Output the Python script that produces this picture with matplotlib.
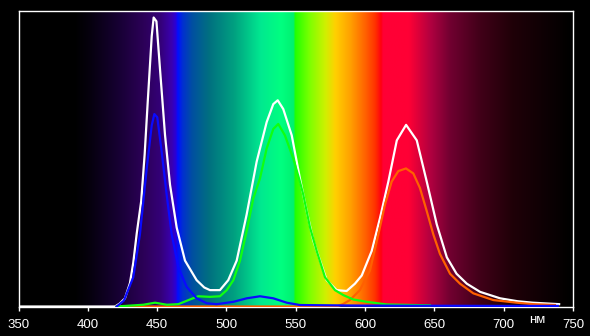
import numpy as np
import matplotlib
matplotlib.use('Agg')
import matplotlib.pyplot as plt
from matplotlib.colors import LinearSegmentedColormap

# spectrum of the backlight, normalised (nm, relative intensity)
white_nm = [350, 415, 419.6, 423, 426.8, 430.4, 432.8, 435.3, 438.5, 441, 443.2, 446.1, 447.5,
            449.5, 452.1, 455.7, 459.3, 464.1, 470.1, 478.5, 484, 488.1, 495.3, 501.3, 507.4,
            514.6, 521.8, 529, 533.8, 537, 541, 547.1, 553, 557.9, 562.7, 567.5, 572.3, 579.5,
            586.7, 592.7, 597.6, 604.8, 610.8, 616.8, 622.9, 629.6, 637.3, 644.5, 651.7, 659,
            666, 673.4, 683, 697.4, 710, 721, 740]
white_val = [0, 0, 0, 0.01, 0.028, 0.08, 0.15, 0.25, 0.36, 0.52, 0.698, 0.924, 0.988,
             0.975, 0.81, 0.586, 0.416, 0.27, 0.157, 0.09, 0.065, 0.056, 0.056, 0.09, 0.157,
             0.315, 0.495, 0.63, 0.692, 0.705, 0.675, 0.585, 0.438, 0.326, 0.225, 0.157, 0.09, 0.056,
             0.053, 0.078, 0.106, 0.19, 0.303, 0.427, 0.568, 0.621, 0.568, 0.427, 0.281, 0.168,
             0.112, 0.078, 0.05, 0.028, 0.018, 0.013, 0.008]

blue_nm = [420.8, 426, 432.8, 437.6, 442.5, 446.1, 448, 450.1, 453.3, 456.9, 460.5, 465.3,
           471.3, 478.5, 485.8, 493, 505, 514.6, 524.2, 533.8, 543.5, 553, 600, 700, 739]
blue_val = [0, 0.02, 0.1, 0.247, 0.472, 0.619, 0.658, 0.647, 0.529, 0.382, 0.247, 0.134,
            0.067, 0.028, 0.011, 0.008, 0.016, 0.028, 0.035, 0.028, 0.013, 0.005, 0.003, 0.002, 0.002]

green_nm = [420.8, 440, 448.5, 457, 465.3, 473.7, 479.7, 488.1, 495.3, 500.2, 505, 509.8,
            514.6, 519.4, 524.2, 529, 533.8, 537.4, 542.2, 548.2, 553, 555.4, 560.3, 565.1,
            571.1, 578.3, 584.3, 591.5, 601.2, 615.6, 646.8]
green_val = [0, 0.006, 0.013, 0.006, 0.008, 0.024, 0.035, 0.033, 0.035, 0.056, 0.09, 0.157,
             0.258, 0.37, 0.438, 0.54, 0.607, 0.624, 0.585, 0.506, 0.427, 0.383, 0.27, 0.19,
             0.1, 0.056, 0.039, 0.024, 0.016, 0.007, 0.004]

red_nm = [420.8, 579.5, 584, 589.1, 596.3, 603.5, 609.6, 614.4, 619.2, 624, 629.5, 634.8,
          639.6, 644.5, 649.2, 654, 661.3, 668.5, 678.1, 692.5, 709.4, 721.4, 737]
red_val = [0, 0, 0.008, 0.022, 0.056, 0.123, 0.247, 0.349, 0.427, 0.463, 0.472, 0.455,
           0.405, 0.326, 0.247, 0.18, 0.112, 0.078, 0.045, 0.022, 0.013, 0.008, 0.005]

ticks = [350, 400, 450, 500, 550, 600, 650, 700, 750]

# colour stops of the spectrum background
stops = [(350, '#000000'), (390, '#000000'), (400, '#05000c'), (420, '#150030'),
         (440, '#2c0058'), (452, '#340078'), (460, '#3a00b0'), (463, '#2a00d8'),
         (464.5, '#0010ff'), (468, '#0030d0'), (475, '#0050a0'), (487, '#007080'),
         (505, '#00a080'), (524, '#00e890'), (539, '#00ff80'), (548, '#00f070'),
         (549, '#20ff00'), (560, '#80ff00'), (571, '#d0f000'), (578, '#ffd000'),
         (589, '#ffa000'), (600, '#ff6000'), (607, '#ff3000'), (611, '#ff0010'),
         (612.5, '#ff0035'), (631, '#ff0035'), (647, '#b00040'), (661, '#700030'),
         (683, '#400018'), (705, '#200008'), (726, '#100004'), (748, '#000000'),
         (750, '#000000')]
cmap = LinearSegmentedColormap.from_list(
    'spec', [((w - 350) / 400, c) for w, c in stops], N=2048)

fig = plt.figure(figsize=(5.9, 3.36), dpi=100, facecolor='black')
ax = fig.add_axes([18.5 / 590, 1 - 306.5 / 336, (573 - 18.5) / 590, 296 / 336])
ax.set_facecolor('black')

grad = np.linspace(0, 1, 2048).reshape(1, -1)
ax.imshow(grad, cmap=cmap, aspect='auto', extent=[350, 750, 0, 1.012],
          interpolation='bilinear', zorder=0)

ax.plot(white_nm, white_val, color='white', lw=1.6, zorder=2)
ax.plot(red_nm, red_val, color='#ff6000', lw=1.6, zorder=3)
ax.plot(green_nm, green_val, color='#10ff10', lw=1.6, zorder=4)
ax.plot(blue_nm, blue_val, color='#0a0aff', lw=1.6, zorder=5)

ax.set_xlim(350, 750)
ax.set_ylim(0, 1.012)
ax.set_yticks([])
ax.set_xticks(ticks)
ax.set_xticklabels([str(t) for t in ticks])
ax.tick_params(axis='x', colors='white', direction='out', length=3, width=1, pad=6,
               labelsize=9.5)
for lab in ax.get_xticklabels():
    lab.set_family('Liberation Sans')
for s in ax.spines.values():
    s.set_color('white')
    s.set_linewidth(1)

ax.text(724.5, -0.047, 'нм', transform=ax.get_xaxis_transform(), color='white',
        fontsize=9.5, family='Liberation Sans', ha='center', va='center')

fig.savefig('out.png', dpi=100, facecolor='black')
